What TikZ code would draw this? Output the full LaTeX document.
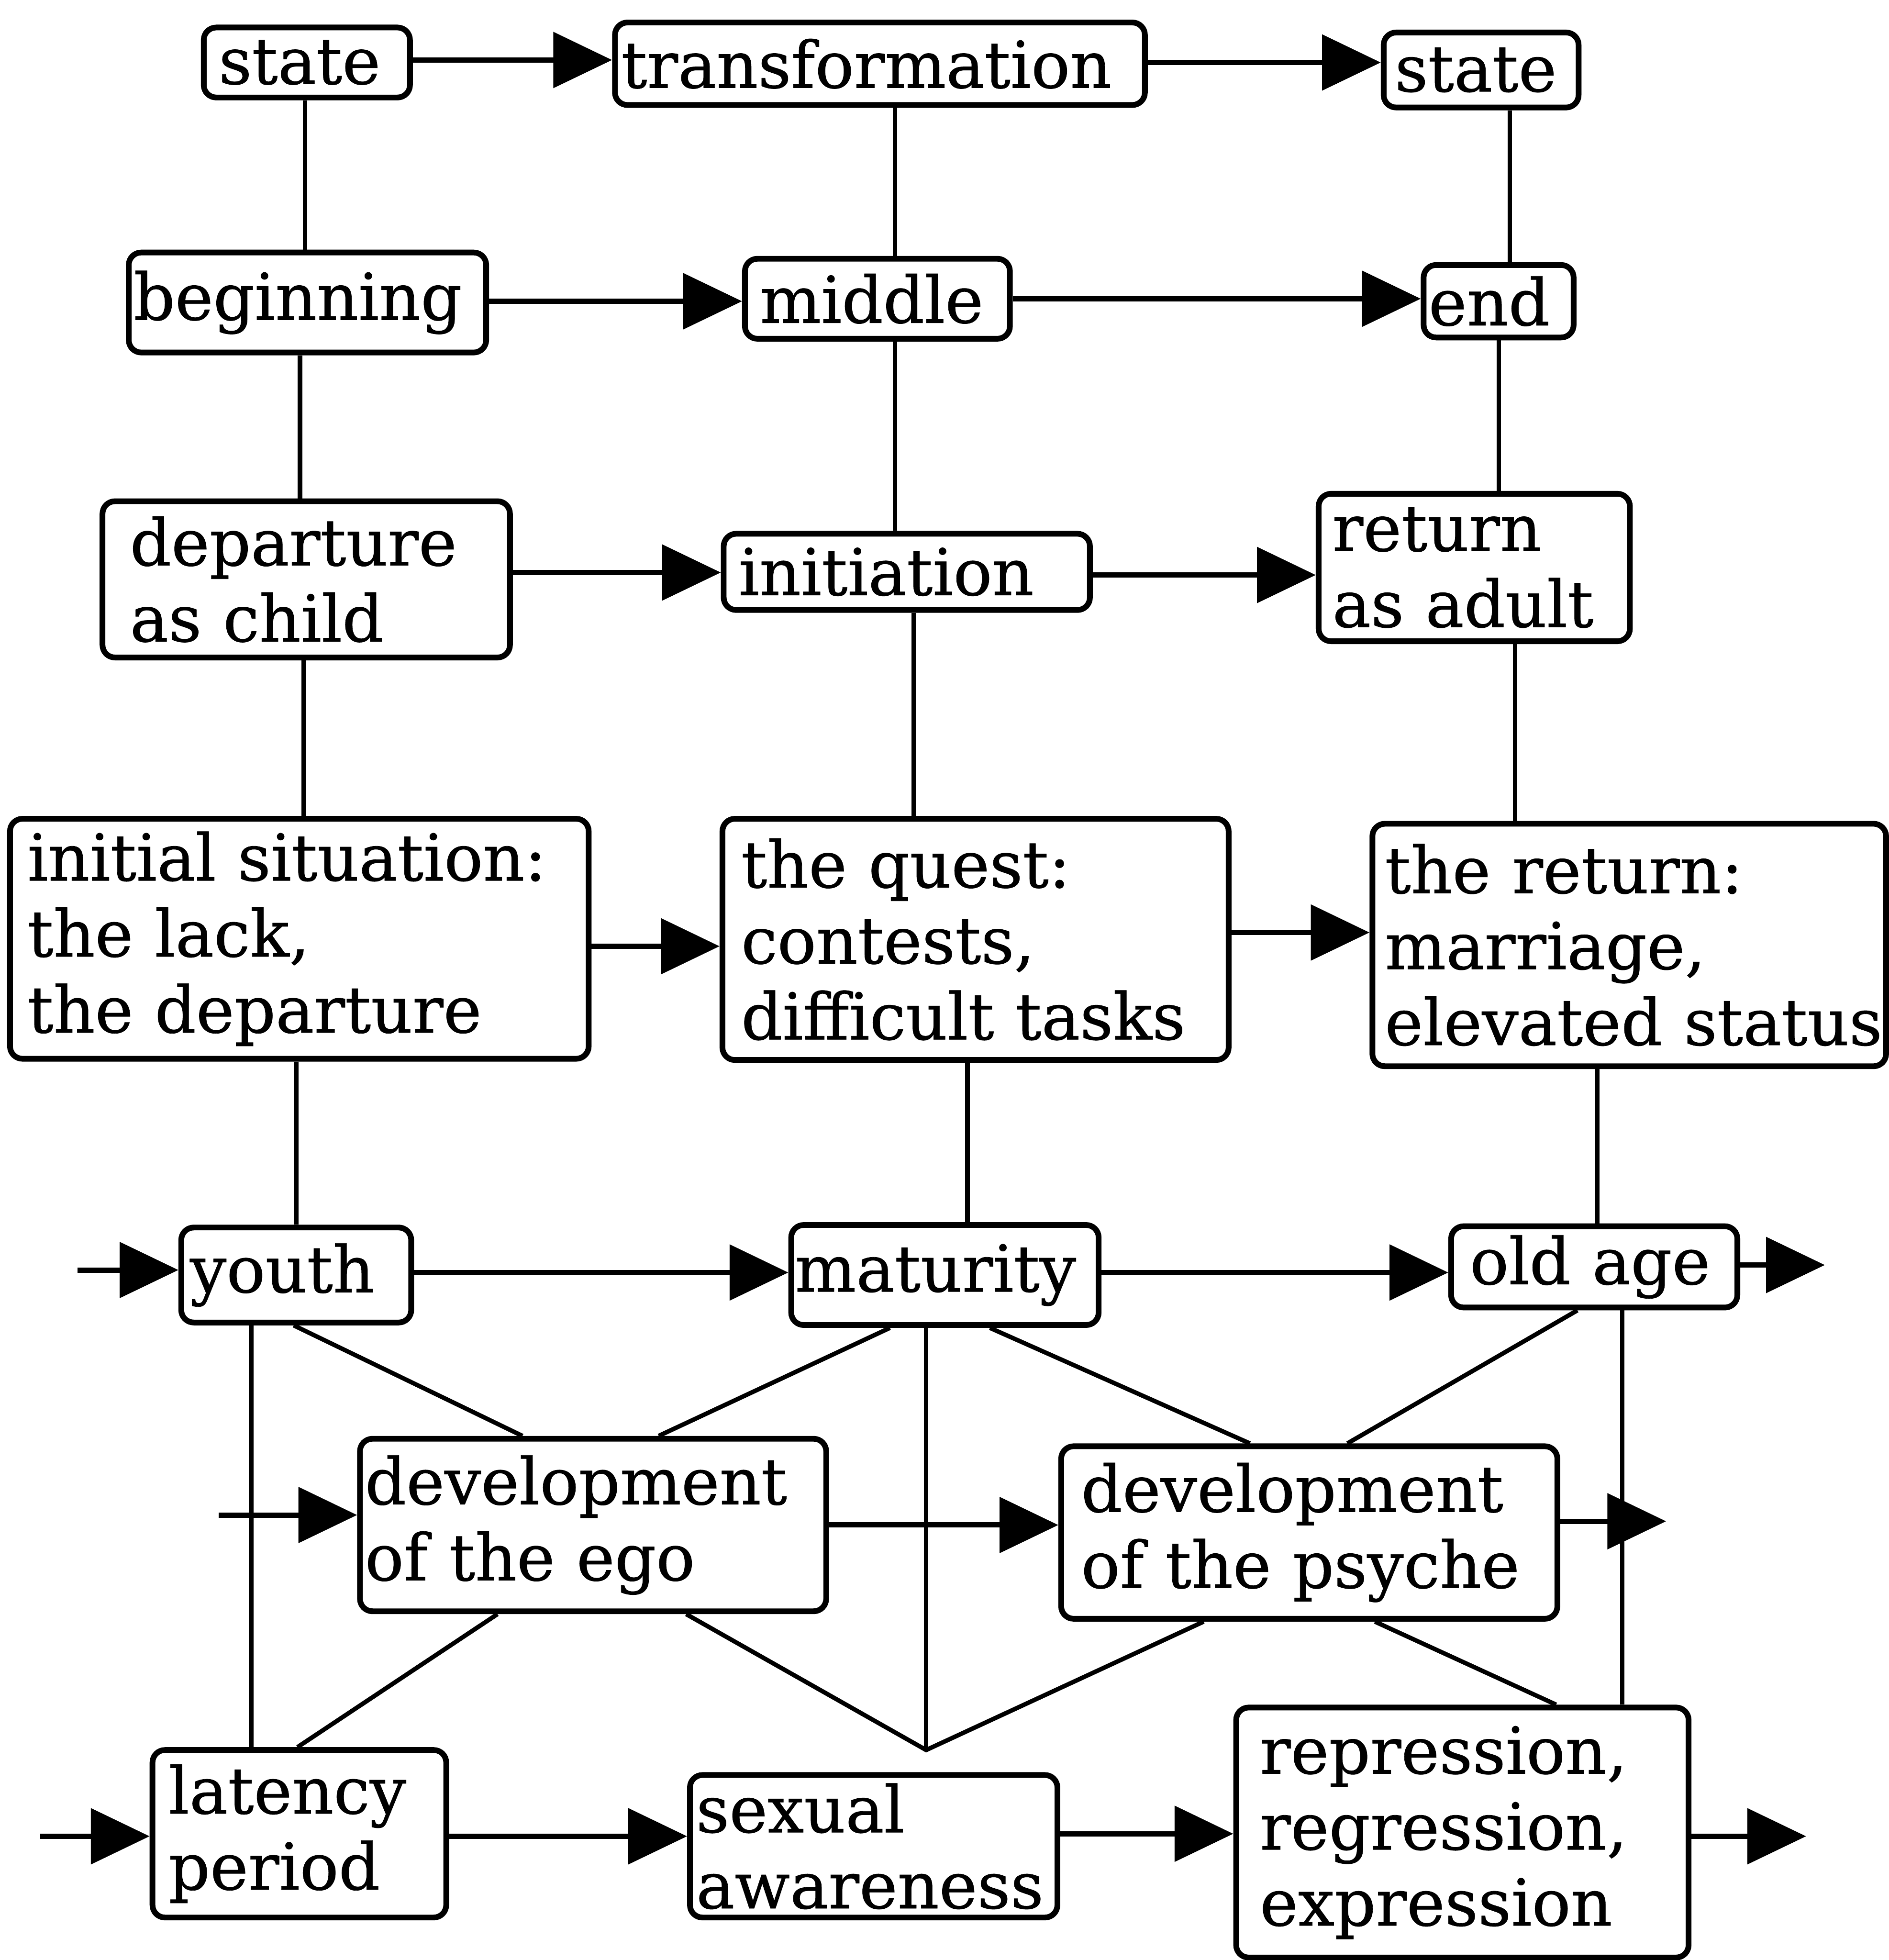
\documentclass[tikz,border=0pt]{standalone}
\usepackage{fontspec}
\setmainfont{DejaVu Serif}[BoldFont={DejaVu Serif}, BoldFeatures={FakeBold=0.6}]
\usetikzlibrary{arrows.meta}
\hyphenpenalty=10000
\exhyphenpenalty=10000
\begin{document}
\begin{tikzpicture}[
  box/.style={draw, line width=1.3pt, rounded corners=0.1cm, align=left,
    font=\fontsize{14.7}{17.3}\selectfont\bfseries, inner ysep=0pt},
  link/.style={line width=1pt},
  flow/.style={line width=1.2pt, -{Triangle[length=0.47cm,width=0.44cm]}}
]
\useasboundingbox (0,0) rectangle (15.11,-15.68);

% row 1
\node[box, minimum width=1.65cm, minimum height=0.56cm, inner xsep=0.12cm, text width=1.41cm] (s1) at (2.455,-0.50) {state};
\node[box, minimum width=4.24cm, minimum height=0.66cm, inner xsep=0.05cm, text width=4.14cm] (tr) at (7.04,-0.51) {transformation};
\node[box, minimum width=1.56cm, minimum height=0.60cm, inner xsep=0.09cm, text width=1.38cm] (s2) at (11.85,-0.56) {state};
% row 2
\node[box, minimum width=2.86cm, minimum height=0.80cm, inner xsep=0.04cm, text width=2.78cm] (beg) at (2.46,-2.42) {beginning};
\node[box, minimum width=2.12cm, minimum height=0.64cm, inner xsep=0.12cm, text width=1.88cm] (mid) at (7.02,-2.39) {middle};
\node[box, minimum width=1.20cm, minimum height=0.58cm, inner xsep=0.04cm, text width=1.12cm] (end) at (11.99,-2.41) {end};
% row 3
\node[box, minimum width=3.26cm, minimum height=1.25cm, inner xsep=0.22cm, text width=2.82cm] (dep) at (2.45,-4.635) {departure\\as~child};
\node[box, minimum width=2.93cm, minimum height=0.61cm, inner xsep=0.12cm, text width=2.69cm] (ini) at (7.255,-4.575) {initiation};
\node[box, minimum width=2.49cm, minimum height=1.18cm, inner xsep=0.11cm, text width=2.27cm] (ret) at (11.795,-4.54) {return\\as~adult};
% row 4
\node[box, minimum width=4.63cm, minimum height=1.92cm, inner xsep=0.14cm, text width=4.35cm] (isit) at (2.395,-7.51) {initial~situation:\\the~lack,\\the~departure};
\node[box, minimum width=4.05cm, minimum height=1.93cm, inner xsep=0.15cm, text width=3.75cm] (quest) at (7.805,-7.515) {the~quest:\\contests,\\difficult~tasks};
\node[box, minimum width=4.11cm, minimum height=1.94cm, inner xsep=0.10cm, text width=3.91cm] (thert) at (13.035,-7.56) {the~return:\\marriage,\\elevated~status};
% row 5
\node[box, minimum width=1.84cm, minimum height=0.76cm, inner xsep=0.07cm, text width=1.70cm] (youth) at (2.37,-10.20) {youth};
\node[box, minimum width=2.46cm, minimum height=0.80cm, inner xsep=0.03cm, text width=2.40cm] (mat) at (7.56,-10.20) {maturity};
\node[box, minimum width=2.29cm, minimum height=0.65cm, inner xsep=0.15cm, text width=1.99cm] (old) at (12.755,-10.135) {old~age};
% row 6
\node[box, minimum width=3.73cm, minimum height=1.38cm, inner xsep=0.04cm, text width=3.65cm] (ego) at (4.745,-12.20) {development\\of~the~ego};
\node[box, minimum width=3.97cm, minimum height=1.38cm, inner xsep=0.16cm, text width=3.65cm] (psy) at (10.475,-12.26) {development\\of~the~psyche};
% row 7
\node[box, minimum width=2.35cm, minimum height=1.34cm, inner xsep=0.13cm, text width=2.09cm] (lat) at (2.395,-14.67) {latency\\period};
\node[box, minimum width=2.94cm, minimum height=1.14cm, inner xsep=0.05cm, text width=2.84cm] (sex) at (6.99,-14.77) {sexual\\awareness};
\node[box, minimum width=3.62cm, minimum height=2.00cm, inner xsep=0.19cm, text width=3.24cm] (rep) at (11.70,-14.66) {repression,\\regression,\\expression};

% free ends of the open arrows
\coordinate (inY) at (0.62,-10.16);
\coordinate (outO) at (14.60,-10.12);
\coordinate (inE) at (1.75,-12.12);
\coordinate (outP) at (13.33,-12.17);
\coordinate (inL) at (0.32,-14.69);
\coordinate (outR) at (14.45,-14.69);
\coordinate (apex) at (7.41,-14.00);

% vertical links between the rows
\draw[link] (s1.south -| 2.44,0) -- (beg.north -| 2.44,0);
\draw[link] (tr.south -| 7.16,0) -- (mid.north -| 7.16,0);
\draw[link] (s2.south -| 12.08,0) -- (end.north -| 12.08,0);
\draw[link] (beg.south -| 2.40,0) -- (dep.north -| 2.40,0);
\draw[link] (mid.south -| 7.16,0) -- (ini.north -| 7.16,0);
\draw[link] (end.south -| 11.99,0) -- (ret.north -| 11.99,0);
\draw[link] (dep.south -| 2.43,0) -- (isit.north -| 2.43,0);
\draw[link] (ini.south -| 7.31,0) -- (quest.north -| 7.31,0);
\draw[link] (ret.south -| 12.12,0) -- (thert.north -| 12.12,0);
\draw[link] (isit.south -| 2.37,0) -- (youth.north -| 2.37,0);
\draw[link] (quest.south -| 7.74,0) -- (mat.north -| 7.74,0);
\draw[link] (thert.south -| 12.78,0) -- (old.north -| 12.78,0);

% lower network
\draw[link] (youth.south -| 2.01,0) -- (lat.north -| 2.01,0);
\draw[link] (youth.south -| 2.35,0) -- (ego.north -| 4.18,0);
\draw[link] (mat.south -| 7.12,0) -- (ego.north -| 5.27,0);
\draw[link] (mat.south -| 7.92,0) -- (psy.north -| 10.00,0);
\draw[link] (old.south -| 12.62,0) -- (psy.north -| 10.78,0);
\draw[link] (mat.south -| 7.41,0) -- (apex);
\draw[link] (ego.south -| 5.49,0) -- (apex) -- (psy.south -| 9.63,0);
\draw[link] (old.south -| 12.98,0) -- (rep.north -| 12.98,0);
\draw[link] (ego.south -| 3.98,0) -- (lat.north -| 2.38,0);
\draw[link] (psy.south -| 11.00,0) -- (rep.north -| 12.45,0);

% horizontal arrows
\draw[flow] (s1.east |- 0,-0.48) -- (tr.west |- 0,-0.48);
\draw[flow] (tr.east |- 0,-0.50) -- (s2.west |- 0,-0.50);
\draw[flow] (beg.east |- 0,-2.41) -- (mid.west |- 0,-2.41);
\draw[flow] (mid.east |- 0,-2.39) -- (end.west |- 0,-2.39);
\draw[flow] (dep.east |- 0,-4.58) -- (ini.west |- 0,-4.58);
\draw[flow] (ini.east |- 0,-4.60) -- (ret.west |- 0,-4.60);
\draw[flow] (isit.east |- 0,-7.57) -- (quest.west |- 0,-7.57);
\draw[flow] (quest.east |- 0,-7.46) -- (thert.west |- 0,-7.46);
\draw[flow] (inY) -- (youth.west |- inY);
\draw[flow] (youth.east |- 0,-10.18) -- (mat.west |- 0,-10.18);
\draw[flow] (mat.east |- 0,-10.18) -- (old.west |- 0,-10.18);
\draw[flow] (old.east |- outO) -- (outO);
\draw[flow] (inE) -- (ego.west |- inE);
\draw[flow] (ego.east |- 0,-12.20) -- (psy.west |- 0,-12.20);
\draw[flow] (psy.east |- outP) -- (outP);
\draw[flow] (inL) -- (lat.west |- inL);
\draw[flow] (lat.east |- 0,-14.69) -- (sex.west |- 0,-14.69);
\draw[flow] (sex.east |- 0,-14.67) -- (rep.west |- 0,-14.67);
\draw[flow] (rep.east |- outR) -- (outR);
\end{tikzpicture}
\end{document}
